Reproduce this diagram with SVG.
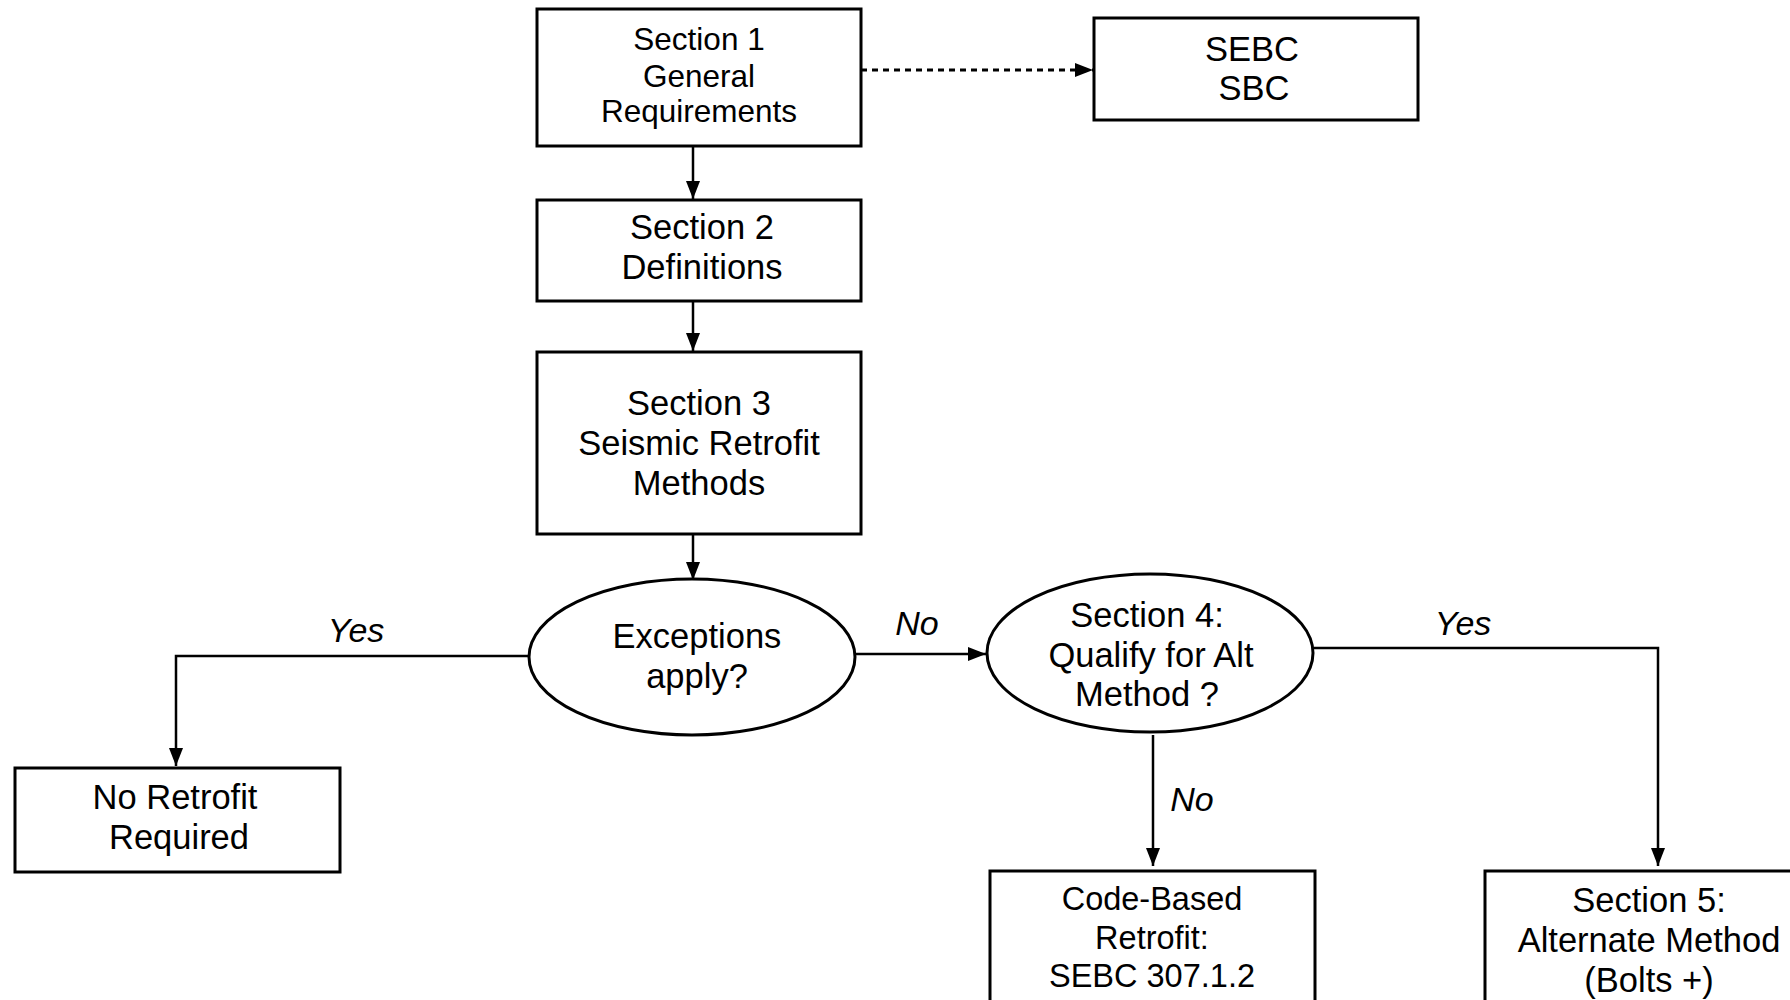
<svg xmlns="http://www.w3.org/2000/svg" width="1790" height="1000" viewBox="0 0 1790 1000">
<style>
.box{fill:#fff;stroke:#000;stroke-width:3}
.t{font-family:"Liberation Sans",Arial,sans-serif;font-size:34.5px;fill:#000;text-anchor:middle}
.lbl{font-family:"Liberation Sans",Arial,sans-serif;font-size:34px;font-style:italic;fill:#000;text-anchor:middle}
.ln{fill:none;stroke:#000;stroke-width:2.5}
.dash{fill:none;stroke:#000;stroke-width:3;stroke-dasharray:6 5}
</style>
<defs>
<marker id="arr" viewBox="0 0 18 14" refX="18" refY="7" markerWidth="18" markerHeight="14" markerUnits="userSpaceOnUse" orient="auto">
<path d="M0,0 L18,7 L0,14 z" fill="#000"/>
</marker>
</defs>
<rect width="1790" height="1000" fill="#fff"/>
<g id="connectors">
<path class="ln" d="M693,146 V199" marker-end="url(#arr)"/>
<path class="ln" d="M693,301 V351" marker-end="url(#arr)"/>
<path class="ln" d="M693,534 V580" marker-end="url(#arr)"/>
<path class="dash" d="M861,70 H1093" marker-end="url(#arr)"/>
<path class="ln" d="M529,656 H176 V766" marker-end="url(#arr)"/>
<path class="ln" d="M855,654 H986" marker-end="url(#arr)"/>
<path class="ln" d="M1313,648 H1658 V866" marker-end="url(#arr)"/>
<path class="ln" d="M1153,735 V866" marker-end="url(#arr)"/>
<text class="lbl" x="356" y="642">Yes</text>
<text class="lbl" x="917" y="635">No</text>
<text class="lbl" x="1463" y="635">Yes</text>
<text class="lbl" x="1192" y="811">No</text>
</g>
<g id="section1">
<rect class="box" x="537" y="9" width="324" height="137"/>
<text class="t" x="699" y="50" style="font-size:31.5px">Section 1</text>
<text class="t" x="699" y="87" style="font-size:31.5px">General</text>
<text class="t" x="699" y="122" style="font-size:31.5px">Requirements</text>
</g>
<g id="sebc">
<rect class="box" x="1094" y="18" width="324" height="102"/>
<text class="t" x="1252" y="61">SEBC</text>
<text class="t" x="1254" y="100">SBC</text>
</g>
<g id="section2">
<rect class="box" x="537" y="200" width="324" height="101"/>
<text class="t" x="702" y="239">Section 2</text>
<text class="t" x="702" y="279">Definitions</text>
</g>
<g id="section3">
<rect class="box" x="537" y="352" width="324" height="182"/>
<text class="t" x="699" y="415">Section 3</text>
<text class="t" x="699" y="455">Seismic Retrofit</text>
<text class="t" x="699" y="495">Methods</text>
</g>
<g id="exceptions">
<ellipse class="box" cx="692" cy="657" rx="163" ry="78"/>
<text class="t" x="697" y="648">Exceptions</text>
<text class="t" x="697" y="688">apply?</text>
</g>
<g id="section4">
<ellipse class="box" cx="1150" cy="653" rx="163" ry="79"/>
<text class="t" x="1147" y="627">Section 4:</text>
<text class="t" x="1151" y="667">Qualify for Alt</text>
<text class="t" x="1147" y="706">Method ?</text>
</g>
<g id="noretrofit">
<rect class="box" x="15" y="768" width="325" height="104"/>
<text class="t" x="175" y="809">No Retrofit</text>
<text class="t" x="179" y="849">Required</text>
</g>
<g id="codebased">
<rect class="box" x="990" y="871" width="325" height="140"/>
<text class="t" x="1152" y="910" style="font-size:32.5px">Code-Based</text>
<text class="t" x="1152" y="949" style="font-size:32.5px">Retrofit:</text>
<text class="t" x="1152" y="987" style="font-size:32.5px">SEBC 307.1.2</text>
</g>
<g id="section5">
<rect class="box" x="1485" y="871" width="330" height="140"/>
<text class="t" x="1649" y="912">Section 5:</text>
<text class="t" x="1649" y="952">Alternate Method</text>
<text class="t" x="1649" y="992">(Bolts +)</text>
</g>
</svg>
